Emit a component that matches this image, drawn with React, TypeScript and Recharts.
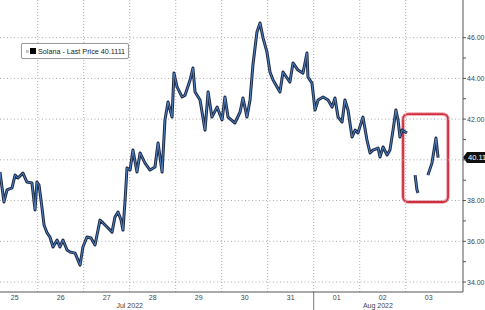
import React from 'react';
import { ComposedChart, Line, XAxis, YAxis, ReferenceLine, ReferenceArea } from 'recharts';

// hours since Jul 25 00:00
const hours = [
  4.3, 6.4, 8.0, 10.6, 12.2, 13.7, 16.3, 18.4, 21.0, 22.6,
  23.6, 24.7, 26.2, 27.3, 28.9, 30.4, 32.0, 34.1, 35.6, 37.2,
  39.3, 40.9, 43.5, 46.1, 47.6, 49.7, 51.8, 53.9, 56.5, 58.1,
  60.2, 62.8, 64.3, 65.9, 67.5, 68.5, 69.6, 70.6, 72.2, 73.7,
  75.8, 77.4, 80.0, 82.6, 85.2, 86.8, 88.9, 90.4, 92.0, 94.1,
  95.1, 96.7, 99.3, 100.9, 103.5, 105.0, 106.1, 108.7, 111.3, 112.9,
  114.9, 117.6, 120.2, 121.7, 123.3, 126.9, 129.6, 131.1, 133.2, 134.8,
  136.3, 138.4, 140.0, 141.6, 143.6, 145.2, 146.8, 148.9, 150.4, 152.0,
  154.1, 155.6, 157.2, 159.8, 162.4, 164.5, 165.0, 167.1, 168.7, 170.3,
  172.9, 175.5, 177.6, 179.1, 180.7, 182.8, 184.3, 185.9, 188.0, 189.6,
  191.1, 193.7, 195.8, 197.4, 198.9, 201.6, 202.6, 204.2, 206.3, 207.8,
  209.4, 210.9, 212.0, 213.0, 214.1, 216.7,
  218.5, 220.9, 221.9, 222.4, 225.0, 227.6, 229.7, 230.8, 231.8, 232.9,
];

const prices: (number | null)[] = [
  39.40, 37.93, 38.52, 38.62, 39.25, 39.11, 39.35, 38.91, 38.86, 37.54,
  38.91, 38.76, 37.68, 36.80, 36.41, 36.21, 35.72, 36.06, 35.72, 36.06,
  35.57, 35.47, 35.42, 34.83, 35.72, 36.21, 36.16, 35.82, 37.04, 36.90,
  36.70, 36.45, 37.19, 37.44, 37.04, 36.55, 38.03, 39.60, 39.50, 40.48,
  39.40, 40.34, 39.84, 39.50, 39.65, 40.83, 39.40, 41.96, 42.84, 42.10,
  44.26, 43.58, 43.09, 43.18, 43.92, 44.51, 43.33, 42.94, 41.46, 43.33,
  42.10, 42.59, 41.96, 43.09, 42.10, 41.81, 42.35, 43.04, 42.10, 42.94,
  44.66, 46.28, 46.72, 45.98, 45.30, 44.31, 43.92, 43.58, 43.33, 44.31,
  44.02, 43.82, 44.76, 44.41, 44.26, 45.25, 44.07, 43.77, 42.45, 42.94,
  43.09, 42.94, 42.59, 43.04, 42.10, 41.86, 42.94, 42.45, 41.12, 41.46,
  41.32, 42.10, 40.97, 40.34, 40.48, 40.58, 40.14, 40.63, 40.24, 40.48,
  41.46, 42.45, 41.96, 41.12, 41.46, 41.32,
  null, 39.25, 38.52, 38.37, null, 39.25, 39.84, 40.48, 41.07, 40.11,
];

const dayTicks = [12, 36, 60, 84, 108, 132, 156, 180, 204, 228];
const dayLabels = ['25', '26', '27', '28', '29', '30', '31', '01', '02', '03'];
const dayBoundaries = [24, 48, 72, 96, 120, 144, 168, 192, 216];
const monthTicks = [72, 201.5];
const monthLabels = ['Jul 2022', 'Aug 2022'];
const yTicks = [34, 35, 36, 37, 38, 39, 40, 41, 42, 43, 44, 45, 46];
const yLabelled = [34, 36, 38, 42, 44, 46]; // 40.00 sits under the last-price tag
const yGrid = [34, 36, 38, 40, 42, 44, 46];
const lastPrice = 40.1111;
const seriesName = 'Solana - Last Price';
const highlight = { x1: 214.6, x2: 238.1, y1: 37.93, y2: 42.25 };

const data = hours.map((t, i) => ({ t, p: prices[i] }));

const FONT = '"Liberation Sans", Arial, sans-serif';

const PriceTag = (props: any) => {
  const vb = props.viewBox || {};
  const x = (vb.x || 0) + (vb.width || 0);
  const y = vb.y || 0;
  return (
    <g>
      <polygon
        points={`${x},${y} ${x + 4},${y - 5.5} ${x + 30},${y - 5.5} ${x + 30},${y + 5.5} ${x + 4},${y + 5.5}`}
        fill="#111"
      />
      <text x={x + 5} y={y + 2.6} fill="#fff" fontSize={7.5} fontFamily={FONT}>
        {lastPrice.toFixed(2)}
      </text>
    </g>
  );
};

const MonthLabel = (props: any) => {
  const vb = props.viewBox || {};
  const x = vb.x || 0;
  const y = (vb.y || 0) + (vb.height || 0);
  return (
    <text x={x} y={y + 15.5} textAnchor="middle" fontSize={7} fontFamily={FONT} fill="#444">
      {props.text}
    </text>
  );
};

const HighlightBox = (props: any) => {
  const { x, y, width, height } = props;
  return (
    <g>
      <rect x={x} y={y} width={width} height={height} rx={6} ry={6} fill="none" stroke="#f3b7bf" strokeWidth={4} />
      <rect x={x} y={y} width={width} height={height} rx={5} ry={5} fill="none" stroke="#cf2d3c" strokeWidth={1.8} />
    </g>
  );
};

const LegendBox = () => (
  <div
    style={{
      position: 'absolute',
      left: 21,
      top: 43,
      display: 'flex',
      alignItems: 'center',
      border: '1px solid #9a9a9a',
      borderRadius: 2,
      background: '#fff',
      height: 14,
      padding: '0 3px 0 4px',
      boxShadow: '0 0 1px #ccc',
      fontFamily: FONT,
      fontSize: 7.2,
      color: '#222',
      whiteSpace: 'nowrap',
    }}
  >
    <span style={{ width: 3, height: 3, background: '#c8c8c8', marginRight: 1 }} />
    <span style={{ width: 6, height: 6, background: '#000', marginRight: 2 }} />
    <span>{`${seriesName} ${lastPrice.toFixed(4)}`}</span>
  </div>
);

const DayTick = (props: any) => {
  const { x, y, payload } = props;
  const i = dayTicks.indexOf(payload.value);
  return (
    <text x={x} y={y + 7.5} textAnchor="middle" fontSize={7} fontFamily={FONT} fill="#444">
      {dayLabels[i]}
    </text>
  );
};

export default function App() {
  return (
    <div style={{ position: 'absolute', left: 0, top: 0, width: 485, height: 310, background: '#fff' }}>
      <ComposedChart width={485} height={310} data={data} margin={{ top: 0, right: 0, bottom: 0, left: 0 }}>
        <XAxis
          dataKey="t"
          type="number"
          domain={[4.33, 245.9]}
          allowDataOverflow
          ticks={dayTicks}
          tick={<DayTick />}
          tickLine={false}
          tickSize={0}
          tickMargin={0}
          axisLine={{ stroke: '#555', strokeWidth: 1 }}
          height={18}
          interval={0}
        />
        <YAxis
          orientation="right"
          type="number"
          domain={[33.51, 47.85]}
          allowDataOverflow
          ticks={yTicks}
          interval={0}
          width={22}
          tickSize={3}
          tickMargin={1}
          tickLine={{ stroke: '#555' }}
          axisLine={{ stroke: '#555' }}
          tick={{ fontSize: 7, fontFamily: FONT, fill: '#444' }}
          tickFormatter={(v: number) => (yLabelled.includes(v) ? v.toFixed(2) : '')}
        />
        {yGrid.map((v) => (
          <ReferenceLine key={'h' + v} y={v} stroke="#a8a8a8" strokeDasharray="1 2.5" />
        ))}
        {dayBoundaries.map((v) => (
          <ReferenceLine key={'v' + v} x={v} stroke="#b0b0b0" strokeDasharray="1 2" />
        ))}
        {monthTicks.map((v, i) => (
          <ReferenceLine
            key={'m' + v}
            x={v}
            stroke="none"
            ifOverflow="visible"
            label={<MonthLabel text={monthLabels[i]} />}
          />
        ))}
        <ReferenceLine
          segment={[{ x: 168, y: 33.51 }, { x: 168, y: 32.62 }]}
          stroke="#777"
          ifOverflow="visible"
        />
        <ReferenceArea
          x1={highlight.x1}
          x2={highlight.x2}
          y1={highlight.y1}
          y2={highlight.y2}
          ifOverflow="visible"
          shape={(p: any) => <HighlightBox {...p} />}
        />
        <Line
          dataKey="p"
          name={seriesName}
          stroke="#1f2d48"
          strokeWidth={3}
          dot={false}
          connectNulls={false}
          isAnimationActive={false}
          strokeLinejoin="round"
        />
        <Line
          dataKey="p"
          stroke="#4f80c2"
          strokeWidth={1}
          dot={false}
          connectNulls={false}
          isAnimationActive={false}
          legendType="none"
        />
        <ReferenceLine y={lastPrice} stroke="none" ifOverflow="visible" label={<PriceTag />} />
      </ComposedChart>
      <LegendBox />
    </div>
  );
}
